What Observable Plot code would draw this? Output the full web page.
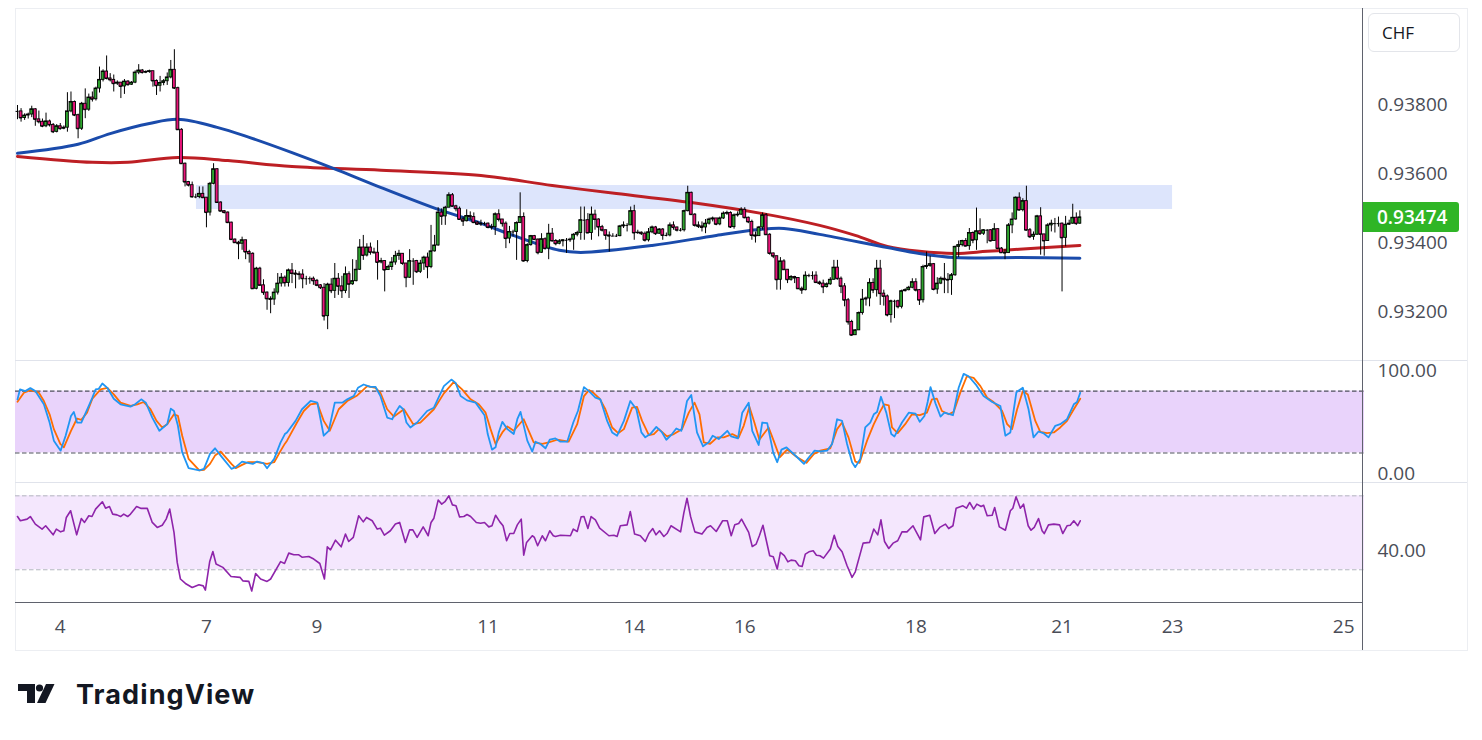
<!DOCTYPE html>
<html><head><meta charset="utf-8">
<script src="https://cdn.jsdelivr.net/npm/d3@7"></script>
<script src="https://cdn.jsdelivr.net/npm/@observablehq/plot@0.6"></script>
<style>
html,body{margin:0;padding:0;background:#fff;}
#root{position:relative;width:1482px;height:740px;overflow:hidden;font-family:"Open Sans",sans-serif;}
#root svg{position:absolute;left:0;}
.line{position:absolute;}
</style></head><body><div id="root"></div>
<script>
// Hourly USD/CHF candles. Values are in 1e-5 CHF above 0.93000 (e.g. 780 -> 0.93780).
const firstOpen = 780;
const closes = [
780,761,768,771,786,757,750,737,751,741, 721,737,730,733,780,807,769,730,802,785,
820,815,846,871,895,875,871,860,863,852, 866,857,863,892,898,892,894,896,868,854,
862,867,878,900,847,727,629,576,567,533, 533,542,531,488,571,613,517,492,488,459,
410,401,398,408,374,369,268,326,278,257, 239,237,257,283,300,285,321,
312,310,309,297,297,297,291,278,271,189, 280,262,297,275,262,310,281,290,323,387,
364,387,373,372,344,348,322,331,344,363, 369,341,300,348,348,317,341,358,331,376,
393,488,477,502,538,506,499,468,463,478, 475,459,454,456,456,445,446,483,468,456,
413,432,432,458,475,348,394,420,410,372, 411,384,427,406,398,
405,408,408,410,424,429,466,466,429,482, 468,446,437,422,420,420,420,448,451,451,
492,429,430,427,408,431,445,427,439,422, 422,451,445,437,437,492,545,482,451,448,
445,456,468,471,454,471,485,487,446,480, 482,496,473,461,422,420,445,480,424,370,
362,294,347,323,294,302,299,268,264,306, 306,306,286,283,273,281,
294,329,297,275,235,172,134,148,198,237, 240,285,264,326,254,246,192,232,232,216,
261,264,271,287,264,235,331,334,339,266, 283,297,294,293,307,389,394,406,391,429,
408,434,427,437,437,406,440,384,372,371, 451,468,531,495,521,437,418,424,477,425,
406,451,456,456,456,415,453,456,473,456,474];
const highs = [
797,788,773,775,795,788,781,758,775,755, 745,742,745,738,834,836,810,772,806,845,
830,836,850,908,900,940,889,885,868,860, 872,869,866,897,915,901,897,899,889,871,
881,872,891,927,958,850,730,631,578,576, 541,562,562,531,575,629,615,519,494,490,
460,412,405,417,408,379,372,330,330,294, 259,245,268,312,312,305,325,
341,321,317,323,304,302,302,295,280,283, 284,297,341,312,304,331,317,352,350,410,
422,398,400,385,407,356,348,336,358,376, 379,369,341,381,355,350,350,362,371,451,
422,502,499,506,545,543,509,504,475,496, 490,487,462,466,460,458,454,487,496,468,
461,448,437,461,545,487,398,422,422,412, 427,415,454,442,410,
410,410,413,414,427,434,504,504,485,504, 495,470,451,437,432,427,425,451,461,456,
504,509,437,432,432,442,449,448,442,442, 429,458,461,446,442,495,564,547,485,461,
461,468,472,475,470,475,490,492,490,484, 490,502,502,475,466,432,448,487,485,427,
371,362,358,352,323,306,304,300,273,317, 310,317,317,290,293,285,
300,350,350,302,283,240,177,150,201,266, 244,297,297,350,350,264,250,235,235,235,
264,268,275,297,297,266,336,374,362,341, 300,302,341,312,312,391,406,408,413,442,
432,501,470,439,439,439,456,442,387,381, 456,487,533,545,528,564,442,432,480,502,
422,456,466,471,475,458,477,466,512,487,493];
const lows = [
756,749,754,758,762,737,744,733,733,735, 716,718,726,727,720,776,765,701,725,759,
780,807,810,833,865,871,865,836,855,817, 829,853,855,860,886,888,889,890,850,826,
836,854,855,874,843,725,627,562,562,530, 528,528,528,444,478,568,515,490,484,456,
408,399,352,379,352,342,266,265,276,249, 206,196,220,250,273,273,273,
283,268,293,268,278,281,278,274,266,175, 150,254,240,249,240,254,240,278,288,321,
350,360,365,368,293,340,259,321,321,336, 350,336,271,298,278,312,312,321,297,326,
374,391,451,451,504,504,490,466,448,461, 466,456,451,448,450,441,437,422,461,446,
384,398,418,350,456,345,343,391,408,366, 370,380,352,403,392,
395,389,370,402,379,418,408,408,427,408, 437,418,432,408,374,418,416,418,442,432,
451,408,425,422,403,403,427,422,425,408, 418,418,437,432,432,432,490,480,446,442,
432,427,452,461,450,450,468,480,442,440, 475,480,470,456,408,400,422,437,422,365,
355,264,264,321,283,290,283,266,252,262, 300,293,283,278,254,270,
278,293,293,254,216,163,131,134,148,192, 218,216,254,244,220,218,187,169,182,210,
210,259,262,268,259,220,227,324,330,262, 252,280,254,254,249,304,358,389,389,379,
398,379,422,422,398,403,406,381,370,352, 371,427,466,493,490,435,413,408,422,365,
362,406,432,429,446,259,389,451,454,451,454];

// Moving averages [bar index, value in 1e-5 above 0.93]
const maBlue = [[0,659],[17,685],[26,716],[37,745],[45,757],[56,734],[65,705],[77,661],[90,610],[102,560],[118,497],[130,457],[139,422],[152,379],[158,373],[178,393],[196,422],[208,439],[215,442],[225,425],[244,387],[253,370],[263,358],[281,358],[298,356]];
const maRed = [[0,650],[21,633],[31,633],[45,647],[59,638],[77,621],[102,610],[130,595],[150,566],[168,543],[189,517],[209,485],[225,451],[235,422],[244,390],[253,376],[263,370],[272,376],[281,382],[298,393]];

// Resistance zone
const zoneStart = 50.2, zoneEnd = 324, zoneLow = 0.93497, zoneHigh = 0.93566;

// Stochastic %K and %D [bar index, value]
const stochK = [[0,72.0],[0.7,81.6],[2.2,80.0],[3.6,82.9],[5.0,80.0],[7.4,67.2],[9.0,49.5],[10.2,31.9],[12.1,22.2],[13.5,36.7],[15.0,55.9],[15.8,59.8],[16.7,49.5],[17.9,49.5],[20.0,65.6],[21.0,73.6],[21.9,81.6],[22.8,82.2],[23.8,87.4],[25.2,83.2],[27.0,72.6],[28.9,67.2],[31.7,64.9],[33.0,67.2],[34.7,72.0],[36.0,68.8],[37.8,54.3],[39.8,41.5],[42.0,47.9],[43.0,63.0],[43.9,60.7],[45.0,46.3],[46.2,20.6],[48.0,5.2],[51.0,3.0],[52.3,4.6],[54.0,19.0],[55.4,24.5],[57.0,17.4],[60.0,4.6],[61.2,6.2],[63.0,11.6],[64.6,10.4],[66.0,9.4],[67.2,11.6],[69.0,10.0],[70.0,5.2],[72.0,14.2],[73.8,30.3],[75.0,38.3],
[75.6,39.9],[78.0,51.1],[79.8,62.4],[82.2,70.4],[84.1,68.8],[85.9,36.7],[87.3,41.5],[89.0,68.8],[91.1,68.8],[92.5,72.0],[94.3,75.2],[95.5,83.2],[97.1,86.4],[99.0,84.2],[100.4,84.2],[101.8,75.2],[103.7,54.3],[105.1,52.7],[106.0,59.1],[107.2,65.6],[108.2,62.4],[109.1,49.5],[110.2,44.7],[112.1,49.5],[114.9,60.7],[116.8,63.9],[119.6,84.8],[121.7,91.2],[122.9,88.0],[124.3,75.2],[126.1,71.0],[128.5,68.8],[131.0,56.6],[131.9,38.3],[133.1,23.2],[134.1,25.4],[135.0,39.9],[136.0,50.2],[137.4,43.1],[139.2,38.3],[140.2,52.7],[141.1,59.8],[143.0,31.9],[144.4,21.3],[145.3,30.9],[146.7,28.7],[148.1,24.5],[149.3,32.8],
[150.9,34.1],[152.3,30.9],[154.2,30.9],[155.9,49.5],[157.2,60.7],[158.9,83.9],[160.3,80.0],[162.1,73.6],[163.5,72.0],[165.4,51.1],[166.8,39.9],[168.2,36.7],[170.1,51.1],[171.9,70.4],[173.6,62.4],[175.0,39.9],[176.1,35.1],[177.5,38.3],[179.2,45.3],[180.8,39.9],[182.0,32.8],[183.6,38.3],[184.8,43.7],[186.2,41.5],[187.8,70.4],[189.0,76.2],[190.6,39.9],[192.3,26.4],[193.9,30.3],[195.0,36.7],[196.7,33.5],[199.1,41.5],[200.2,36.0],[202.1,34.1],[203.3,59.1],[205.1,68.8],[206.1,41.5],[207.9,27.7],[208.9,49.5],[210.3,48.9],[212.0,20.0],[213.1,11.0],[214.3,23.2],[215.7,25.4],[218.7,15.8],[220.6,9.4],[222.0,15.8],[223.6,22.2],[225.2,21.5],
[227.1,22.2],[228.5,28.7],[229.9,52.7],[231.3,51.1],[232.7,28.7],[234.1,11.0],[235.0,6.2],[236.4,14.2],[237.8,44.7],[239.2,49.5],[240.2,57.5],[241.1,59.8],[242.2,74.5],[243.7,59.1],[245.1,38.3],[246.0,36.0],[248.1,49.5],[250.0,59.1],[251.9,58.2],[253.1,50.2],[254.4,55.9],[255.3,69.4],[256.1,83.9],[257.5,68.1],[258.9,55.3],[260.0,59.1],[262.4,56.6],[264.0,83.2],[265.4,96.7],[266.8,94.4],[269.0,85.5],[271.0,75.2],[273.4,69.4],[275.7,65.6],[277.1,36.7],[278.5,39.9],[280.2,79.0],[282.0,83.2],[283.6,62.4],[285.0,35.1],[286.4,40.8],[287.9,38.9],[289.2,35.1],[291.1,46.3],[292.5,47.9],[294.4,52.7],[296.3,67.2],[297.2,69.4],[298.1,78.4]];
const stochD = [[0,69.7],[1.8,78.4],[3.6,81.0],[6.0,78.4],[7.4,70.4],[9.0,57.5],[10.2,43.1],[12.0,28.7],[13.0,25.4],[15.0,41.5],[16.7,53.4],[17.9,52.1],[19.5,59.1],[21.0,72.6],[23.3,81.6],[25.2,83.2],[27.0,76.8],[28.9,68.8],[31.7,65.6],[33.6,67.2],[35.4,69.4],[37.3,62.4],[39.0,51.1],[40.6,44.7],[42.0,47.9],[43.9,57.5],[45.0,55.9],[46.2,36.7],[48.0,14.2],[51.0,3.0],[52.3,3.6],[54.0,9.4],[55.4,17.4],[57.0,21.3],[60.0,9.4],[61.2,5.2],[63.0,8.4],[64.6,11.0],[67.2,11.0],[70.0,9.4],[72.0,11.0],[73.8,22.0],[75.0,29.0],[75.6,31.9],
[78.4,49.5],[80.3,60.7],[82.2,67.2],[84.1,68.2],[85.9,51.1],[87.6,41.5],[90.1,62.4],[92.5,70.4],[95.3,75.8],[98.1,84.8],[100.4,83.2],[101.8,78.4],[103.7,62.4],[105.6,55.3],[108.4,62.4],[111.0,47.9],[113.0,49.5],[116.8,62.4],[119.6,77.8],[122.4,89.0],[124.7,81.6],[127.1,72.0],[129.4,67.2],[131.3,59.1],[132.7,43.1],[134.1,28.7],[136.0,39.9],[137.4,45.7],[139.2,41.5],[142.0,52.7],[143.4,41.5],[144.8,30.3],[147.2,28.7],[149.0,30.3],
[151.4,32.8],[154.6,30.9],[157.0,47.9],[158.9,75.2],[160.3,81.0],[161.7,77.8],[163.3,72.6],[164.9,62.4],[166.8,44.7],[168.5,39.2],[170.1,43.1],[172.4,64.0],[173.8,64.6],[175.2,51.1],[177.1,37.3],[178.5,38.3],[179.9,43.1],[182.2,36.0],[184.1,38.3],[186.4,43.1],[188.3,59.1],[189.9,68.8],[191.3,57.5],[192.5,30.3],[194.2,28.7],[196.3,35.1],[198.1,35.1],[200.5,38.3],[202.3,35.1],[203.7,46.3],[205.3,64.9],[206.7,49.5],[208.1,32.8],[209.3,38.3],[210.7,44.7],[212.1,31.9],[213.8,15.8],[215.9,23.2],[218.7,15.8],[221.3,10.4],[223.4,19.0],[225.2,22.2],
[228.0,24.5],[229.9,43.1],[231.3,49.5],[233.1,35.1],[235.0,11.6],[236.2,10.4],[238.3,31.9],[240.2,47.9],[241.8,59.1],[243.1,67.2],[244.4,66.2],[245.3,44.7],[246.9,39.2],[249.0,47.9],[250.9,57.5],[253.1,56.6],[255.1,59.1],[256.5,72.0],[257.9,72.6],[259.3,60.7],[261.2,57.5],[262.6,59.8],[264.5,79.0],[266.3,94.4],[268.2,92.8],[270.1,84.8],[272.0,73.6],[273.8,69.4],[276.2,60.7],[277.6,47.9],[279.0,43.1],[280.4,62.4],[282.0,80.0],[283.4,76.8],[285.5,51.1],[286.9,40.5],[288.8,39.2],[290.7,39.9],[292.5,44.7],[294.4,51.1],[296.3,62.4],[298.1,72.6]];

// RSI [bar index, value]
const rsi = [[0,58.8],[0.8,56.5],[2.7,57.4],[3.6,58.8],[5.0,54.7],[6.9,52.0],[7.9,53.8],[10.0,48.9],[10.9,52.0],[12.1,50.5],[13.0,51.1],[13.7,58.3],[14.9,61.9],[16.6,48.9],[17.9,57.7],[18.8,55.6],[20.0,59.2],[20.9,58.8],[21.9,62.8],[23.8,66.8],[24.7,63.3],[25.8,64.2],[26.7,60.1],[27.9,59.7],[28.9,58.8],[29.8,60.1],[30.9,58.8],[31.7,60.1],[33.4,64.2],[34.7,63.2],[36.4,63.2],[37.8,55.6],[39.2,52.9],[40.6,54.1],[41.7,57.4],[42.7,62.8],[43.9,50.2],[44.8,34.0],[45.7,25.0],[47.1,22.6],[49.0,20.4],[50.9,21.9],[52.1,21.3],[52.7,19.0],[53.9,34.3],[54.8,39.9],[55.7,33.1],[57.6,31.3],[59.9,26.4],[62.4,25.9],[63.2,24.0],[64.9,23.7],[65.7,18.5],[66.8,28.0],[68.2,25.0],[70.0,23.7],[71.0,25.0],[73.8,34.4],[74.9,33.4],
[76.1,39.0],[77.5,38.1],[78.9,38.1],[79.8,36.8],[81.7,37.2],[83.1,35.8],[84.8,33.4],[86.1,25.0],[86.9,42.4],[87.8,40.8],[89.2,46.0],[90.8,42.4],[92.0,49.3],[92.9,45.3],[94.2,47.5],[95.7,59.2],[97.0,55.9],[97.9,58.3],[99.5,56.5],[100.9,52.0],[101.8,52.5],[102.9,48.7],[104.6,51.1],[106.0,54.7],[107.2,55.6],[108.8,44.8],[110.0,51.6],[110.9,51.6],[112.1,47.5],[113.8,53.2],[115.2,48.4],[116.0,55.6],[116.8,57.9],[118.0,67.7],[119.0,65.5],[119.9,66.8],[121.0,70.0],[122.0,65.1],[123.0,64.6],[124.0,58.6],[125.2,58.8],[126.1,59.9],[127.1,58.8],[128.7,55.6],[129.9,55.2],[131.0,55.6],[132.2,53.2],[133.1,53.8],[134.1,59.5],[135.3,55.9],[136.2,53.8],[137.2,45.7],[138.1,49.6],[139.2,49.6],[140.2,54.3],[141.3,57.4],[142.0,37.9],[142.8,44.8],[144.4,48.4],[145.0,47.5],[145.9,43.0],[147.2,48.4],[148.1,45.7],[149.3,51.1],[150.3,48.4],
[150.9,48.0],[152.3,48.7],[155.1,48.4],[155.9,52.0],[157.0,50.7],[158.1,58.6],[158.9,58.8],[160.0,52.3],[160.9,58.8],[162.1,57.0],[163.3,52.5],[165.9,48.4],[167.3,48.7],[168.2,48.0],[169.1,53.8],[171.0,54.3],[171.9,61.5],[173.1,49.3],[174.7,48.4],[176.1,45.3],[177.1,49.6],[178.2,52.3],[179.1,48.9],[180.1,51.1],[181.3,48.0],[182.2,49.6],[183.3,53.8],[186.0,50.5],[186.9,60.6],[187.8,68.7],[188.8,58.8],[190.0,50.5],[192.0,49.3],[193.4,52.9],[194.4,53.8],[196.0,50.7],[197.8,56.5],[199.1,56.5],[200.2,48.4],[201.2,54.3],[202.3,55.0],[203.1,57.4],[205.1,50.2],[206.1,42.6],[207.2,43.9],[208.1,48.4],[209.1,54.1],[211.0,37.6],[212.0,37.0],[213.1,30.4],[214.0,39.4],[215.1,37.6],[216.1,34.3],[217.0,35.2],[218.2,34.9],[219.2,32.2],[220.1,31.8],[221.0,38.5],[222.0,39.7],[223.2,40.3],[224.1,37.9],[225.1,37.6],
[226.1,36.3],[228.0,41.2],[229.1,48.7],[230.1,42.6],[231.3,39.7],[232.7,32.2],[234.1,25.9],[235.0,28.9],[237.2,44.4],[239.0,44.8],[240.2,52.0],[241.3,48.9],[242.2,57.0],[243.2,45.3],[244.4,41.5],[245.6,44.4],[246.9,45.7],[248.1,50.5],[249.5,50.5],[251.2,53.8],[253.3,46.2],[254.2,58.6],[255.9,59.5],[257.3,49.6],[258.7,52.9],[260.3,54.7],[261.2,52.3],[262.4,53.8],[263.3,63.3],[265.2,64.6],[266.2,63.3],[267.1,66.4],[268.2,62.8],[269.1,65.5],[270.3,64.2],[271.0,64.9],[272.0,59.2],[273.4,59.5],[274.1,63.7],[275.4,53.2],[277.1,51.4],[278.5,61.9],[279.2,63.3],[280.1,69.5],[281.3,63.3],[282.2,65.5],[283.5,53.8],[284.3,51.4],[285.2,52.9],[286.4,57.7],[287.4,51.1],[288.0,49.6],[289.2,54.3],[290.7,54.7],[292.3,54.3],[293.2,49.6],[294.4,53.8],[295.3,54.1],[296.3,56.5],[297.4,53.8],[298.1,56.5]];

// Axis ticks
const priceTicks = [0.932, 0.934, 0.936, 0.938];
const stochTicks = [0, 100];
const rsiTicks = [40];
const dayTickIdx = [12, 53, 84, 132, 173, 204, 252, 293, 324, 372];
const dayTickLabels = ["4", "7", "9", "11", "14", "16", "18", "21", "23", "25"];
const lastPrice = 0.93474;

// ---------- build ----------
const P = v => 0.93 + v / 1e5;
const candles = closes.map((c, i) => ({
  i, o: P(i ? closes[i - 1] : firstOpen), c: P(c), h: P(highs[i]), l: P(lows[i])
}));
const xDomain = [-0.561, 377.84];
const W = 1482, ML = 15, MR = 118;
const fontStyle = {background: "transparent", fontFamily: "'Open Sans', sans-serif", fontSize: "19px", color: "#4a4d57", overflow: "visible"};
const UP = "#2ea52e", DOWN = "#e9157a";

const main = Plot.plot({
  width: W, height: 352, marginLeft: ML, marginRight: MR, marginTop: 0, marginBottom: 0,
  x: {domain: xDomain, axis: null},
  y: {domain: [0.93061, 0.94077], axis: null},
  style: fontStyle,
  marks: [
    Plot.rect([0], {x1: () => zoneStart, x2: () => zoneEnd, y1: () => zoneLow, y2: () => zoneHigh, fill: "#dde5fc"}),
    Plot.line(maRed, {x: d => d[0], y: d => P(d[1]), stroke: "#bd1f24", strokeWidth: 3, curve: "catmull-rom"}),
    Plot.line(maBlue, {x: d => d[0], y: d => P(d[1]), stroke: "#1a4bab", strokeWidth: 3, curve: "catmull-rom"}),
    Plot.ruleX(candles, {x: "i", y1: "l", y2: "h", stroke: "#000", strokeWidth: 1}),
    Plot.rect(candles, {x1: d => d.i - 0.4, x2: d => d.i + 0.4, y1: "o", y2: "c", fill: d => d.c >= d.o ? UP : DOWN, stroke: "#000", strokeWidth: 0.9}),
    Plot.ruleY(candles, {y: "c", x1: d => d.i - 0.4, x2: d => d.i + 0.4, stroke: "#000", strokeWidth: 1}),
    Plot.axisY(priceTicks, {anchor: "right", tickSize: 0, tickPadding: 13, tickFormat: d => d.toFixed(5), label: null})
  ]
});

const stoch = Plot.plot({
  width: W, height: 122, marginLeft: ML, marginRight: MR, marginTop: 0, marginBottom: 0,
  x: {domain: xDomain, axis: null},
  y: {domain: [-8.7, 109.7], axis: null},
  style: fontStyle,
  marks: [
    Plot.rect([0], {y1: () => 20, y2: () => 80, fill: "#e9d3fb"}),
    Plot.ruleY([20, 80], {stroke: "#4f525c", strokeDasharray: "4.5,2.5", strokeWidth: 1.1}),
    Plot.line(stochD, {x: d => d[0], y: d => d[1], stroke: "#ff6d00", strokeWidth: 1.8}),
    Plot.line(stochK, {x: d => d[0], y: d => d[1], stroke: "#2196f3", strokeWidth: 1.8}),
    Plot.axisY(stochTicks, {anchor: "right", tickSize: 0, tickPadding: 13, tickFormat: d => d.toFixed(2), label: null})
  ]
});

const rsiPlot = Plot.plot({
  width: W, height: 168, marginLeft: ML, marginRight: MR, marginTop: 0, marginBottom: 48,
  x: {domain: xDomain},
  y: {domain: [12.3, 77.2], axis: null},
  style: fontStyle,
  marks: [
    Plot.rect([0], {y1: () => 30, y2: () => 70, fill: "#f4e7fd"}),
    Plot.ruleY([30, 70], {stroke: "#b3b6bf", strokeDasharray: "4.5,2.5", strokeWidth: 1}),
    Plot.line(rsi, {x: d => d[0], y: d => d[1], stroke: "#8e24aa", strokeWidth: 1.6}),
    Plot.axisY(rsiTicks, {anchor: "right", tickSize: 0, tickPadding: 13, tickFormat: d => d.toFixed(2), label: null}),
    Plot.axisX(dayTickIdx, {anchor: "bottom", tickSize: 0, tickPadding: 17, label: null, tickFormat: d => dayTickLabels[dayTickIdx.indexOf(d)]})
  ]
});

const root = document.getElementById("root");
function put(el, top) { el.style.top = top + "px"; root.appendChild(el); }
function line(l, t, w, h, c) {
  const d = document.createElement("div");
  d.className = "line";
  Object.assign(d.style, {left: l + "px", top: t + "px", width: w + "px", height: h + "px", background: c});
  root.appendChild(d);
}
// outer frame
const fr = document.createElement("div");
Object.assign(fr.style, {position: "absolute", left: "15px", top: "8px", width: "1451px", height: "641px", border: "1px solid #eceef2"});
root.appendChild(fr);

put(main, 8);
put(stoch, 360);
put(rsiPlot, 482);

line(15, 360, 1452, 1, "#e0e3eb");
line(15, 482, 1452, 1, "#e0e3eb");
line(15, 602, 1348, 1, "#5f626d");
line(1362, 8, 1, 642, "#5f626d");

// CHF box
const chf = document.createElement("div");
Object.assign(chf.style, {position: "absolute", left: "1368px", top: "13px", width: "77px", height: "37px", border: "1px solid #e3e5ea", borderRadius: "6px", background: "#fff", font: "17px 'Open Sans', sans-serif", color: "#131722", lineHeight: "37px", paddingLeft: "13px", boxSizing: "content-box"});
chf.textContent = "CHF";
root.appendChild(chf);

// last price label positioned by the main y scale
const yLast = main.scale("y").apply(lastPrice) + 8;
const lp = document.createElement("div");
Object.assign(lp.style, {position: "absolute", left: "1363px", top: (yLast - 15) + "px", width: "96px", height: "30px", background: "#2fb526", borderRadius: "0 3px 3px 0", color: "#fff", font: "600 19px 'Open Sans', sans-serif", lineHeight: "30px", paddingLeft: "14px", boxSizing: "border-box"});
lp.textContent = lastPrice.toFixed(5);
root.appendChild(lp);

// TradingView logo
const logo = document.createElement("div");
Object.assign(logo.style, {position: "absolute", left: "17px", top: "676px", height: "36px", display: "flex", alignItems: "center"});
logo.innerHTML = '<svg width="56" height="22" viewBox="0 0 56 22" style="position:static;margin-right:3px"><path d="M1 1H18V20H10V8H1Z" fill="#131722"/><circle cx="22.5" cy="5" r="3.6" fill="#131722"/><path d="M29 1H37.5L28.5 20H20Z" fill="#131722"/></svg><span style="font:700 27px Inter, sans-serif;color:#131722;letter-spacing:1.1px">TradingView</span>';
root.appendChild(logo);
</script></body></html>
